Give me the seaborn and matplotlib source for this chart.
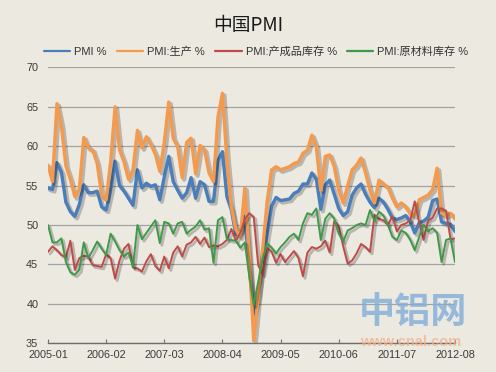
import numpy as np
import pandas as pd
import matplotlib
matplotlib.use("Agg")
import matplotlib.pyplot as plt
import matplotlib.patheffects as pe
import seaborn as sns

# ---------------- data ----------------
months = [f"{2005 + i // 12}-{i % 12 + 1:02d}" for i in range(92)]
tick_labels = ["2005-01", "2006-02", "2007-03", "2008-04",
               "2009-05", "2010-06", "2011-07", "2012-08"]
series_names = ["PMI %", "PMI:生产 %", "PMI:产成品库存 %", "PMI:原材料库存 %"]

pmi = [54.7, 54.5, 57.9, 56.7, 52.9, 51.7, 51.1, 52.6, 55.1, 54.1, 54.1, 54.3,
       52.3, 51.9, 54.4, 58.1, 55.0, 54.3, 53.4, 52.5, 57.0, 54.7, 55.3, 54.9,
       55.1, 53.2, 56.1, 58.7, 55.5, 54.4, 53.4, 54.1, 56.0, 53.4, 55.5, 55.1,
       53.0, 53.0, 58.2, 59.3, 53.6, 51.9, 48.8, 49.2, 51.1, 44.6, 38.8, 41.2,
       45.3, 49.0, 52.4, 53.5, 53.1, 53.2, 53.3, 54.0, 54.3, 55.2, 55.2, 56.6,
       55.8, 52.0, 55.1, 55.7, 53.9, 52.1, 51.2, 51.7, 53.8, 54.7, 55.2, 53.9,
       52.9, 52.2, 53.4, 52.9, 52.0, 50.9, 50.7, 50.9, 51.2, 50.4, 49.0, 50.3,
       50.5, 51.0, 53.1, 53.3, 50.4, 50.2, 50.1, 49.2]

production = [57.6, 55.5, 65.4, 62.5, 57.5, 55.8, 53.6, 54.5, 61.1, 59.8, 59.5, 57.8,
              53.8, 53.2, 58.0, 65.0, 59.5, 58.0, 55.8, 57.0, 62.0, 59.8, 61.2, 60.2,
              59.0, 56.8, 60.5, 65.6, 61.0, 59.9, 56.0, 60.5, 61.0, 56.5, 60.1, 59.5,
              56.6, 55.5, 63.7, 66.7, 58.2, 52.3, 49.4, 48.5, 54.7, 46.0, 35.3, 41.0,
              47.0, 53.0, 57.0, 57.4, 57.0, 57.2, 57.4, 57.8, 58.0, 59.1, 59.5, 61.4,
              59.9, 54.4, 58.7, 58.9, 57.4, 54.4, 52.8, 55.0, 57.0, 57.6, 58.5, 56.6,
              54.4, 52.8, 55.7, 55.2, 54.8, 53.4, 52.3, 52.8, 52.3, 51.4, 51.2, 53.2,
              53.5, 53.8, 54.5, 57.2, 51.5, 51.2, 51.5, 50.8]

finished_inventory = [46.6, 47.3, 46.8, 46.2, 45.9, 48.0, 44.3, 45.8, 46.1, 46.0, 44.9, 44.8,
                      44.7, 46.3, 45.8, 43.2, 45.5, 47.0, 47.6, 44.6, 44.5, 44.1, 45.4, 46.3,
                      44.8, 44.2, 46.0, 44.5, 46.5, 47.3, 46.0, 47.5, 47.8, 48.5, 47.6, 48.4,
                      47.2, 47.4, 47.3, 47.6, 48.1, 49.5, 48.0, 49.0, 50.7, 51.5, 51.0, 44.9,
                      43.7, 47.1, 46.6, 45.2, 46.3, 45.3, 46.0, 46.7, 45.8, 43.5, 46.5, 47.2,
                      47.0, 47.3, 48.0, 46.5, 50.5, 49.8, 47.3, 45.1, 45.5, 46.4, 47.6, 47.2,
                      46.6, 51.3, 50.8, 50.6, 50.0, 51.1, 49.2, 50.0, 50.2, 50.6, 53.0, 50.3,
                      48.1, 50.6, 50.9, 52.1, 52.1, 51.8, 48.2, 48.3]

raw_inventory = [50.0, 47.8, 47.8, 48.3, 45.3, 44.0, 43.7, 44.3, 47.8, 45.8, 46.8, 47.9,
                 47.0, 46.2, 48.9, 47.9, 46.8, 46.0, 46.5, 44.7, 50.0, 48.2, 49.0, 49.8,
                 50.6, 47.7, 50.4, 50.2, 48.9, 50.2, 50.4, 48.9, 49.4, 49.8, 50.6, 49.4,
                 49.6, 45.2, 50.6, 51.0, 48.2, 48.1, 48.0, 47.1, 47.8, 43.5, 39.8, 42.8,
                 45.8, 47.7, 47.1, 46.4, 47.2, 47.8, 48.5, 48.9, 48.1, 50.2, 51.5, 51.3,
                 52.1, 48.1, 50.8, 51.5, 50.8, 48.9, 47.9, 49.3, 49.6, 50.0, 50.2, 50.0,
                 51.9, 50.5, 51.7, 51.2, 50.0, 48.5, 48.1, 49.3, 49.0, 48.1, 46.8, 48.5,
                 50.0, 49.2, 49.6, 49.0, 45.3, 48.1, 48.3, 45.3]

colors = ["#4A7EBB", "#F59A4C", "#BE4B48", "#3E9A48"]
widths = [2.4, 2.4, 1.4, 1.4]

# ---------------- figure ----------------
sns.set_theme(style="white")
plt.rcParams["font.family"] = ["Liberation Sans", "Noto Sans CJK SC", "DejaVu Sans"]
bg = "#ECE9E1"

fig = plt.figure(figsize=(4.96, 3.72), dpi=100, facecolor=bg)
ax = fig.add_axes([48 / 496, 1 - 343.3 / 372, (455 - 48) / 496, (343.3 - 67.3) / 372])
ax.set_facecolor(bg)

x_idx = np.arange(len(months))
all_values = [pmi, production, finished_inventory, raw_inventory]
for name, vals, c, lw in zip(series_names, all_values, colors, widths):
    df = pd.DataFrame({"x": x_idx, "value": vals})
    sns.lineplot(data=df, x="x", y="value", ax=ax, color=c, linewidth=lw,
                 label=name, legend=False, solid_joinstyle="round",
                 solid_capstyle="round")
    line = ax.get_lines()[-1]
    line.set_path_effects([
        pe.SimpleLineShadow(offset=(1.5, -1.5), shadow_color="#000000",
                            alpha=0.22, linewidth=lw + 0.6),
        pe.Normal()])

ax.set_xlim(0, len(months) - 1)
ax.set_ylim(35, 70)
ax.set_yticks(np.arange(35, 71, 5))
ax.set_yticklabels([str(v) for v in range(35, 71, 5)])
tick_pos = [months.index(t) for t in tick_labels]
ax.set_xticks(tick_pos)
ax.set_xticklabels(tick_labels)
ax.set_xlabel("")
ax.set_ylabel("")

ax.grid(axis="y", color="#A3A3A3", linewidth=0.9)
ax.grid(axis="x", visible=False)
for s in ["top", "right", "left"]:
    ax.spines[s].set_visible(False)
ax.spines["bottom"].set_color("#6E6E6E")
ax.spines["bottom"].set_linewidth(1.0)
ax.tick_params(axis="y", length=0, pad=7, labelsize=7.8, labelcolor="#3A3A3A")
ax.tick_params(axis="x", direction="in", length=3, width=0.8, color="#6E6E6E",
               pad=5, labelsize=7.8, labelcolor="#3A3A3A", bottom=True)

# title
fig.text(0.5, 1 - 25 / 372, "中国PMI", ha="center", va="center", fontsize=13.5,
         color="#1A1A1A", family=["Noto Sans CJK SC", "DejaVu Sans"])

# legend
handles = ax.get_lines()[:4]
leg = fig.legend(handles, series_names, loc="center", ncol=4,
                 bbox_to_anchor=(256 / 496, 1 - 52 / 372), frameon=False,
                 fontsize=8, handlelength=2.4, handletextpad=0.35,
                 columnspacing=0.9, labelcolor="#333333")
for lh in leg.get_lines():
    lh.set_linewidth(1.6)
    lh.set_path_effects([])

# watermark
fig.text(413 / 496, 1 - 312 / 372, "中铝网", ha="center", va="center",
         fontsize=26, fontweight="bold", color="#82ADD8", alpha=0.8,
         family=["Noto Sans CJK SC", "DejaVu Sans"], zorder=10)
fig.text(411 / 496, 1 - 342 / 372, "www.cnal.com", ha="center", va="center",
         fontsize=10.5, fontweight="bold", color="#F3B08A", alpha=0.75, zorder=10)

fig.savefig("out.png", dpi=100, facecolor=bg)
